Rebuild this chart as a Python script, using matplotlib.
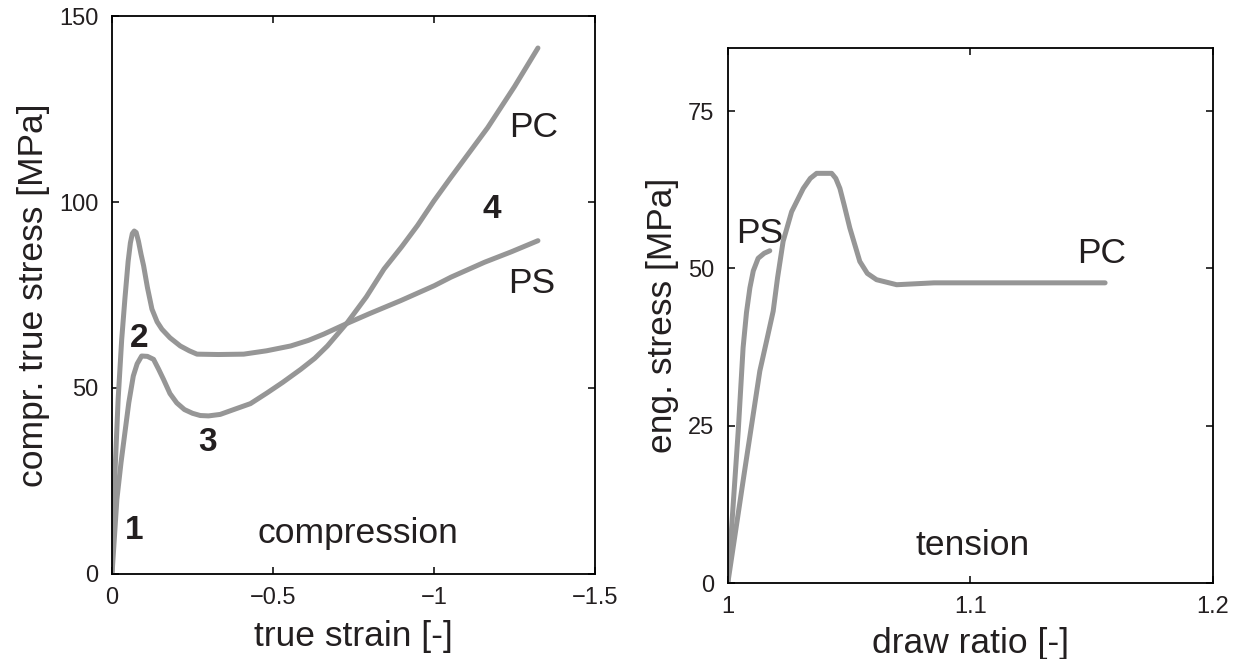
import matplotlib
matplotlib.use("Agg")
import matplotlib.pyplot as plt

plt.rcParams['font.family'] = ['Liberation Sans', 'DejaVu Sans']

# ---- compression data (true strain, true stress MPa) ----
ps_c_strain = [0.0, -0.008, -0.019, -0.030, -0.040, -0.050, -0.057, -0.063, -0.069, -0.075,
               -0.082, -0.090, -0.098, -0.110, -0.124, -0.140, -0.155, -0.180, -0.212, -0.240,
               -0.264, -0.330, -0.409, -0.480, -0.555, -0.610, -0.658, -0.731, -0.800, -0.897,
               -1.001, -1.053, -1.157, -1.240, -1.323]
ps_c_stress = [0.6, 25.0, 47.0, 63.0, 74.0, 84.0, 89.0, 91.5, 92.2, 91.8,
               89.5, 86.0, 82.9, 77.0, 71.2, 67.8, 65.8, 63.5, 61.3, 60.0,
               59.1, 59.0, 59.1, 60.0, 61.3, 62.8, 64.5, 67.4, 70.0, 73.5,
               77.5, 79.8, 83.8, 86.6, 89.6]

pc_c_strain = [0.0, -0.015, -0.028, -0.040, -0.052, -0.066, -0.078, -0.092, -0.110, -0.129,
               -0.145, -0.160, -0.180, -0.201, -0.225, -0.250, -0.274, -0.300, -0.336, -0.378,
               -0.430, -0.482, -0.530, -0.586, -0.630, -0.669, -0.731, -0.790, -0.845, -0.900,
               -0.949, -1.000, -1.050, -1.167, -1.250, -1.323]
pc_c_stress = [0.0, 20.0, 30.0, 38.0, 46.0, 53.2, 56.5, 58.6, 58.5, 57.7,
               55.0, 52.3, 48.5, 46.0, 44.2, 43.2, 42.6, 42.5, 42.9, 44.2,
               45.8, 48.7, 51.5, 55.0, 58.0, 61.3, 67.6, 74.5, 82.0, 88.0,
               93.7, 100.3, 106.3, 120.0, 131.0, 141.4]

# ---- tension data (draw ratio, eng. stress MPa) ----
ps_t_ratio = [1.0, 1.0043, 1.0063, 1.0077, 1.0091, 1.0105, 1.0125, 1.0150, 1.0173]
ps_t_stress = [0.0, 24.2, 37.4, 43.0, 46.9, 49.6, 51.6, 52.4, 52.8]

pc_t_ratio = [1.0, 1.0066, 1.0132, 1.0160, 1.0187, 1.0205, 1.0228, 1.0263, 1.0311, 1.0340,
              1.0366, 1.0428, 1.0445, 1.0462, 1.0480, 1.0503, 1.0544, 1.0575, 1.0613, 1.0696,
              1.0850, 1.1555]
pc_t_stress = [0.0, 17.0, 33.7, 38.5, 43.2, 48.5, 54.3, 59.0, 62.7, 64.3,
               65.1, 65.1, 64.3, 62.7, 60.0, 56.4, 51.1, 49.2, 48.2, 47.4,
               47.7, 47.7]

left_xticks = [0, -0.5, -1, -1.5]
left_xticklabels = ['0', '\u22120.5', '\u22121', '\u22121.5']
left_yticks = [0, 50, 100, 150]
right_xticks = [1.0, 1.1, 1.2]
right_xticklabels = ['1', '1.1', '1.2']
right_yticks = [0, 25, 50, 75]

LC = '#969696'
LW = 3.6
TXT = '#231f20'
FS = 25.5
FSB = 24
FST = 17

fig = plt.figure(figsize=(12.42, 6.59), dpi=100)
ax1 = fig.add_axes([0.0902, 0.129, 0.3888, 0.8467])
ax2 = fig.add_axes([0.586, 0.1153, 0.3907, 0.8117])

for ax in (ax1, ax2):
    for s in ax.spines.values():
        s.set_linewidth(1.3)
        s.set_color('black')
    ax.tick_params(direction='in', top=True, right=True, length=5, width=1.1,
                   labelsize=FST, colors='black', labelcolor=TXT)
    ax.tick_params(axis='x', pad=9.5)
    ax.tick_params(axis='y', pad=10)

kw = dict(color=LC, lw=LW, solid_capstyle='round', solid_joinstyle='round')

# left panel
ax1.plot(ps_c_strain, ps_c_stress, **kw)
ax1.plot(pc_c_strain, pc_c_stress, **kw)
ax1.set_xlim(0, -1.5)
ax1.set_ylim(0, 150)
ax1.set_xticks(left_xticks)
ax1.set_xticklabels(left_xticklabels)
ax1.set_yticks(left_yticks)
ax1.set_xlabel('true strain [-]', fontsize=FS, color=TXT, labelpad=8)
ax1.set_ylabel('compr. true stress [MPa]', fontsize=FS, color=TXT, labelpad=6.5)

ax1.text(-0.068, 11.6, '1', fontsize=FSB, fontweight='bold', color=TXT, ha='center', va='center')
ax1.text(-0.084, 63.4, '2', fontsize=FSB, fontweight='bold', color=TXT, ha='center', va='center')
ax1.text(-0.296, 35.3, '3', fontsize=FSB, fontweight='bold', color=TXT, ha='center', va='center')
ax1.text(-1.18, 98.1, '4', fontsize=FSB, fontweight='bold', color=TXT, ha='center', va='center')
ax1.text(-0.763, 11, 'compression', fontsize=FS, color=TXT, ha='center', va='center')
ax1.text(-1.31, 119.9, 'PC', fontsize=FS, color=TXT, ha='center', va='center')
ax1.text(-1.305, 78.2, 'PS', fontsize=FS, color=TXT, ha='center', va='center')

# right panel
ax2.plot(ps_t_ratio, ps_t_stress, **kw)
ax2.plot(pc_t_ratio, pc_t_stress, **kw)
ax2.set_xlim(1.0, 1.2)
ax2.set_ylim(0, 85)
ax2.set_xticks(right_xticks)
ax2.set_xticklabels(right_xticklabels)
ax2.set_yticks(right_yticks)
ax2.set_xlabel('draw ratio [-]', fontsize=FS, color=TXT, labelpad=6)
ax2.set_ylabel('eng. stress [MPa]', fontsize=FS, color=TXT, labelpad=6.5)

ax2.text(1.0132, 55.5, 'PS', fontsize=FS, color=TXT, ha='center', va='center')
ax2.text(1.1542, 52.4, 'PC', fontsize=FS, color=TXT, ha='center', va='center')
ax2.text(1.101, 6.0, 'tension', fontsize=FS, color=TXT, ha='center', va='center')

fig.savefig('out.png', dpi=100)
